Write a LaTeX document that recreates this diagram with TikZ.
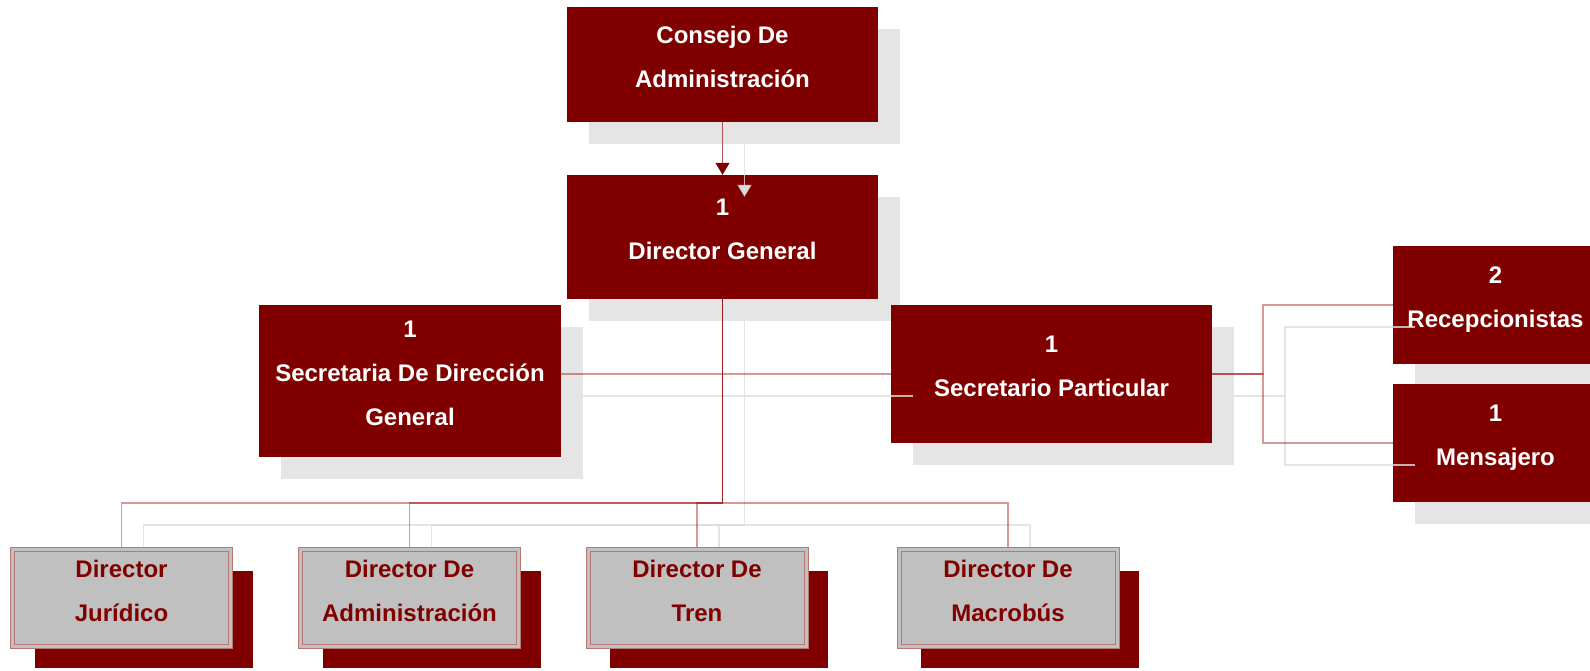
\documentclass[tikz,border=0pt]{standalone}
\usepackage{fontspec}
\setmainfont{Liberation Sans}
\usetikzlibrary{arrows.meta,shadows}
\definecolor{dkred}{HTML}{800000}
\definecolor{shgray}{HTML}{E5E5E5}
\definecolor{lnred}{HTML}{900000}
\definecolor{shline}{HTML}{DDDDDD}
\definecolor{boxgray}{HTML}{C0C0C0}
\definecolor{rim}{HTML}{B87878}
\tikzset{
  base/.style={inner sep=0pt, align=center,
    font=\bfseries\fontsize{24}{44}\selectfont,
    execute at end node={\rule[-15pt]{0pt}{15pt}}},
  unit/.style={base, fill=dkred, text=white,
    drop shadow={shadow xshift=22pt, shadow yshift=-22pt, fill=shgray, opacity=1}},
  direc/.style={base, fill=boxgray, text=dkred, draw=rim, line width=1pt,
    double=boxgray, double distance=3pt,
    minimum width=218pt, minimum height=97pt,
    drop shadow={shadow xshift=22pt, shadow yshift=-21pt, fill=dkred, opacity=1}},
  conn/.style={lnred, draw opacity=0.4, line width=1.3pt},
  shconn/.style={shline, draw opacity=0.8, line width=1.4pt},
  shoff/.style={xshift=22pt, yshift=-22pt},
}
\begin{document}
\begin{tikzpicture}[x=1pt,y=-1pt]
  \clip (0,0) rectangle (1590,671);
  % boxes
  \node[unit, minimum width=311pt, minimum height=115pt] (cons) at (722.5,64.5) {Consejo De\\Administración};
  \node[unit, minimum width=311pt, minimum height=124pt] (dg) at (722.5,237) {1\\Director General};
  \node[unit, minimum width=302pt, minimum height=152pt] (sec) at (410,381) {1\\Secretaria De Dirección\\General};
  \node[unit, minimum width=321pt, minimum height=138pt] (spart) at (1051.5,374) {1\\Secretario Particular};
  \node[unit, minimum width=205pt, minimum height=118pt] (recep) at (1495.5,305) {2\\Recepcionistas};
  \node[unit, minimum width=205pt, minimum height=118pt] (mens) at (1495.5,443) {1\\Mensajero};
  \node[direc] (jur) at (121.5,598) {Director\\Jurídico};
  \node[direc] (adm) at (409.5,598) {Director De\\Administración};
  \node[direc] (tren) at (697,598) {Director De\\Tren};
  \node[direc] (macro) at (1008,598) {Director De\\Macrobús};
  \coordinate (bus) at (722.5,503);
  \coordinate (fork) at (1263,374);
  \coordinate (secout) at (sec.east |- spart.west);
  % shadow lines
  \draw[shconn, -{Triangle[width=14pt,length=12pt]}] ([shoff]cons.south) -- ([shoff]dg.north);
  \draw[shconn] ([shoff]dg.south) -- ([shoff]bus);
  \foreach \d in {jur,adm,tren,macro}
    \draw[shconn] ([xshift=22pt,yshift=2.5pt]\d.north) |- ([shoff]bus);
  \draw[shconn] ([shoff]secout) -- ([shoff]spart.west);
  \draw[shconn] ([shoff]spart.east) -- ([shoff]fork);
  \draw[shconn] ([shoff]recep.west) -| ([shoff]fork) |- ([shoff]mens.west);
  % red lines
  \draw[line width=1.3pt, color={rgb,255:red,178;green,84;blue,84}, -{Triangle[width=14pt,length=12pt,color=dkred]}] (cons.south) -- (dg.north);
  \foreach \d in {jur,adm,tren,macro}
    \draw[conn] (dg.south) -- (bus) -| ([yshift=2.5pt]\d.north);
  \draw[conn] (secout) -- (spart.west);
  \draw[conn] (spart.east) -- (fork) |- (recep.west);
  \draw[conn] (spart.east) -- (fork) |- (mens.west);
\end{tikzpicture}
\end{document}
